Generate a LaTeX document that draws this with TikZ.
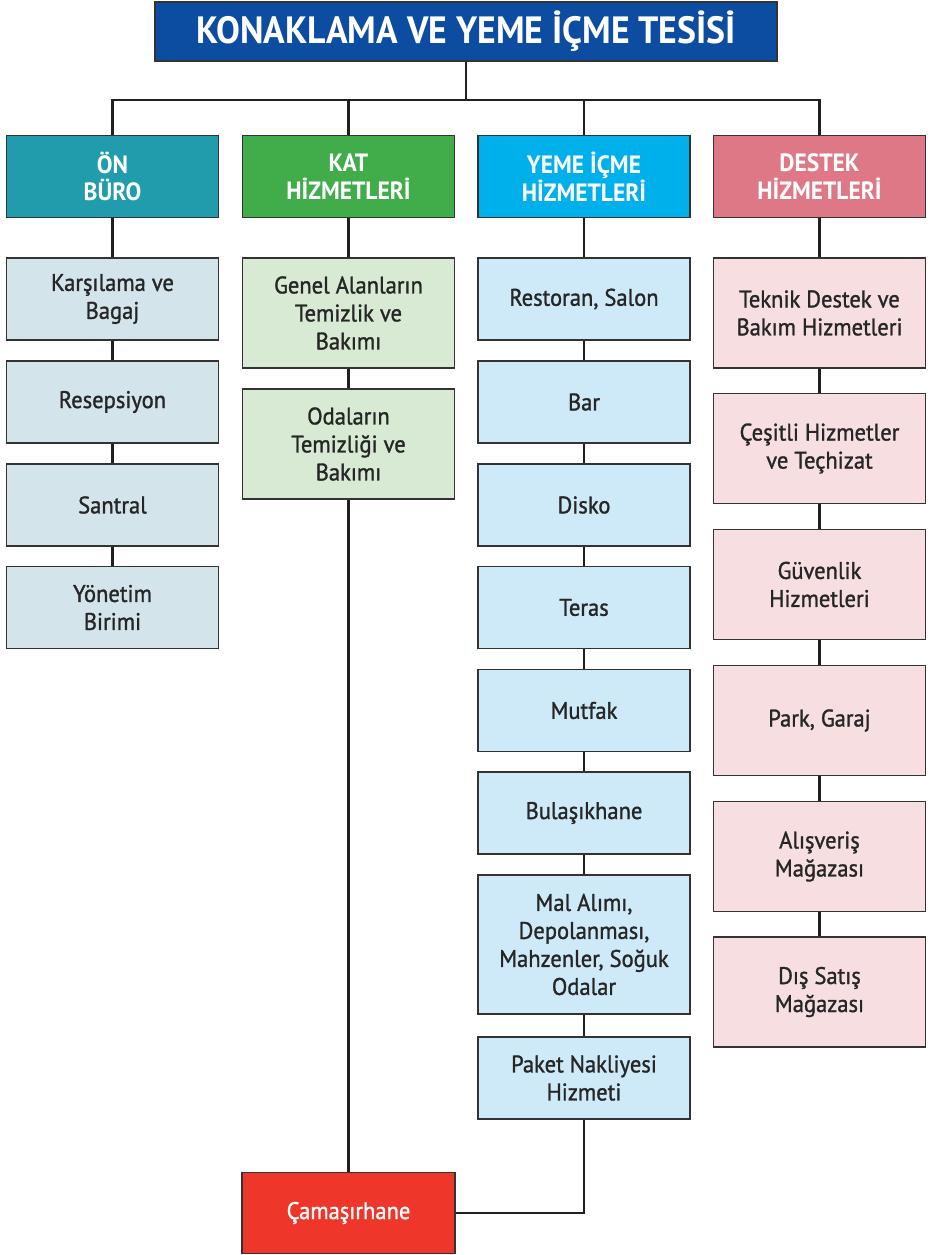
\documentclass[tikz,border=0pt]{standalone}
\usepackage{fontspec}
\setmainfont{PT Sans}[FakeStretch=0.94]
\newfontfamily\bodyfont{PT Sans}[FakeStretch=0.94, FakeBold=1.2]
\definecolor{titleblue}{HTML}{0D4DA1}
\definecolor{hteal}{HTML}{219CAC}
\definecolor{hgreen}{HTML}{41AD4A}
\definecolor{hcyan}{HTML}{00B0EB}
\definecolor{hpink}{HTML}{DE7886}
\definecolor{fteal}{HTML}{D3E4EA}
\definecolor{fgreen}{HTML}{D8EAD3}
\definecolor{fcyan}{HTML}{CEEAF8}
\definecolor{fpink}{HTML}{F7DFE1}
\definecolor{laundry}{HTML}{EE362B}
\definecolor{edge}{HTML}{333333}
\definecolor{linec}{HTML}{231F20}
\begin{document}
\begin{tikzpicture}[x=1pt,y=-1pt,
  box/.style={draw=edge, line width=1.3pt, minimum width=212pt, align=center, inner sep=0pt, font=\bodyfont\fontsize{24}{28}\selectfont, text=black!85},
  head/.style={box, minimum height=82pt, text=white, font=\fontsize{25}{27.5}\selectfont\bfseries},
  s1/.style={box, fill=fteal},
  s2/.style={box, fill=fgreen},
  s3/.style={box, fill=fcyan},
  s4/.style={box, fill=fpink},
  conn/.style={draw=linec, line width=2.4pt}]
\useasboundingbox (0,0) rectangle (929,1255);
% title
\node[draw=edge, line width=1.3pt, fill=titleblue, minimum width=622pt, minimum height=59pt, text=white, font=\fontsize{38}{40}\selectfont\bfseries, inner sep=0pt] (top) at (466,31.5) {KONAKLAMA VE YEME İÇME TESİSİ};
% headers
\node[head, fill=hteal] (h1) at (112.5,176.5) {ÖN\\BÜRO};
\node[head, fill=hgreen] (h2) at (348.5,176.5) {KAT\\HİZMETLERİ};
\node[head, fill=hcyan] (h3) at (584,176.5) {YEME İÇME\\HİZMETLERİ};
\node[head, fill=hpink] (h4) at (819.5,176.5) {DESTEK\\HİZMETLERİ};
\coordinate (bus) at (466,100);
% column 1
\node[s1, minimum height=82pt] (a1) at (112.5,299) {Karşılama ve\\Bagaj};
\node[s1, minimum height=82pt] (a2) at (112.5,402) {Resepsiyon};
\node[s1, minimum height=82pt] (a3) at (112.5,505) {Santral};
\node[s1, minimum height=82pt] (a4) at (112.5,607.5) {Yönetim\\Birimi};
% column 2
\node[s2, minimum height=110pt] (b1) at (348.5,313) {Genel Alanların\\Temizlik ve\\Bakımı};
\node[s2, minimum height=110pt] (b2) at (348.5,444) {Odaların\\Temizliği ve\\Bakımı};
% column 3
\node[s3, minimum height=82pt] (c1) at (584,299) {Restoran, Salon};
\node[s3, minimum height=82pt] (c2) at (584,402) {Bar};
\node[s3, minimum height=82pt] (c3) at (584,505) {Disko};
\node[s3, minimum height=82pt] (c4) at (584,607.5) {Teras};
\node[s3, minimum height=82pt] (c5) at (584,710.5) {Mutfak};
\node[s3, minimum height=82pt] (c6) at (584,813) {Bulaşıkhane};
\node[s3, minimum height=139pt] (c7) at (584,944.5) {Mal Alımı,\\Depolanması,\\Mahzenler, Soğuk\\Odalar};
\node[s3, minimum height=82pt] (c8) at (584,1078) {Paket Nakliyesi\\Hizmeti};
% column 4
\node[s4, minimum height=110pt] (d1) at (819.5,313) {Teknik Destek ve\\Bakım Hizmetleri};
\node[s4, minimum height=110pt] (d2) at (819.5,448.5) {Çeşitli Hizmetler\\ve Teçhizat};
\node[s4, minimum height=110pt] (d3) at (819.5,584.5) {Güvenlik\\Hizmetleri};
\node[s4, minimum height=110pt] (d4) at (819.5,720.5) {Park, Garaj};
\node[s4, minimum height=110pt] (d5) at (819.5,856.5) {Alışveriş\\Mağazası};
\node[s4, minimum height=110pt] (d6) at (819.5,992) {Dış Satış\\Mağazası};
% laundry
\node[box, fill=laundry, text=white, minimum width=213pt, minimum height=81pt] (e) at (348.5,1213) {Çamaşırhane};
% connectors
\draw[conn] (top.south) -- (bus);
\draw[conn] (h1.north) |- (bus) -| (h4.north);
\draw[conn] (h2.north) -- (h2.north |- bus);
\draw[conn] (h3.north) -- (h3.north |- bus);
\draw[conn] (h1) -- (a1) (a1) -- (a2) (a2) -- (a3) (a3) -- (a4);
\draw[conn] (h2) -- (b1) (b1) -- (b2) (b2) -- (e);
\draw[conn] (h3) -- (c1) (c1) -- (c2) (c2) -- (c3) (c3) -- (c4) (c4) -- (c5) (c5) -- (c6) (c6) -- (c7) (c7) -- (c8);
\draw[conn] (c8.south) |- (e.east);
\draw[conn] (h4) -- (d1) (d1) -- (d2) (d2) -- (d3) (d3) -- (d4) (d4) -- (d5) (d5) -- (d6);
\end{tikzpicture}
\end{document}
